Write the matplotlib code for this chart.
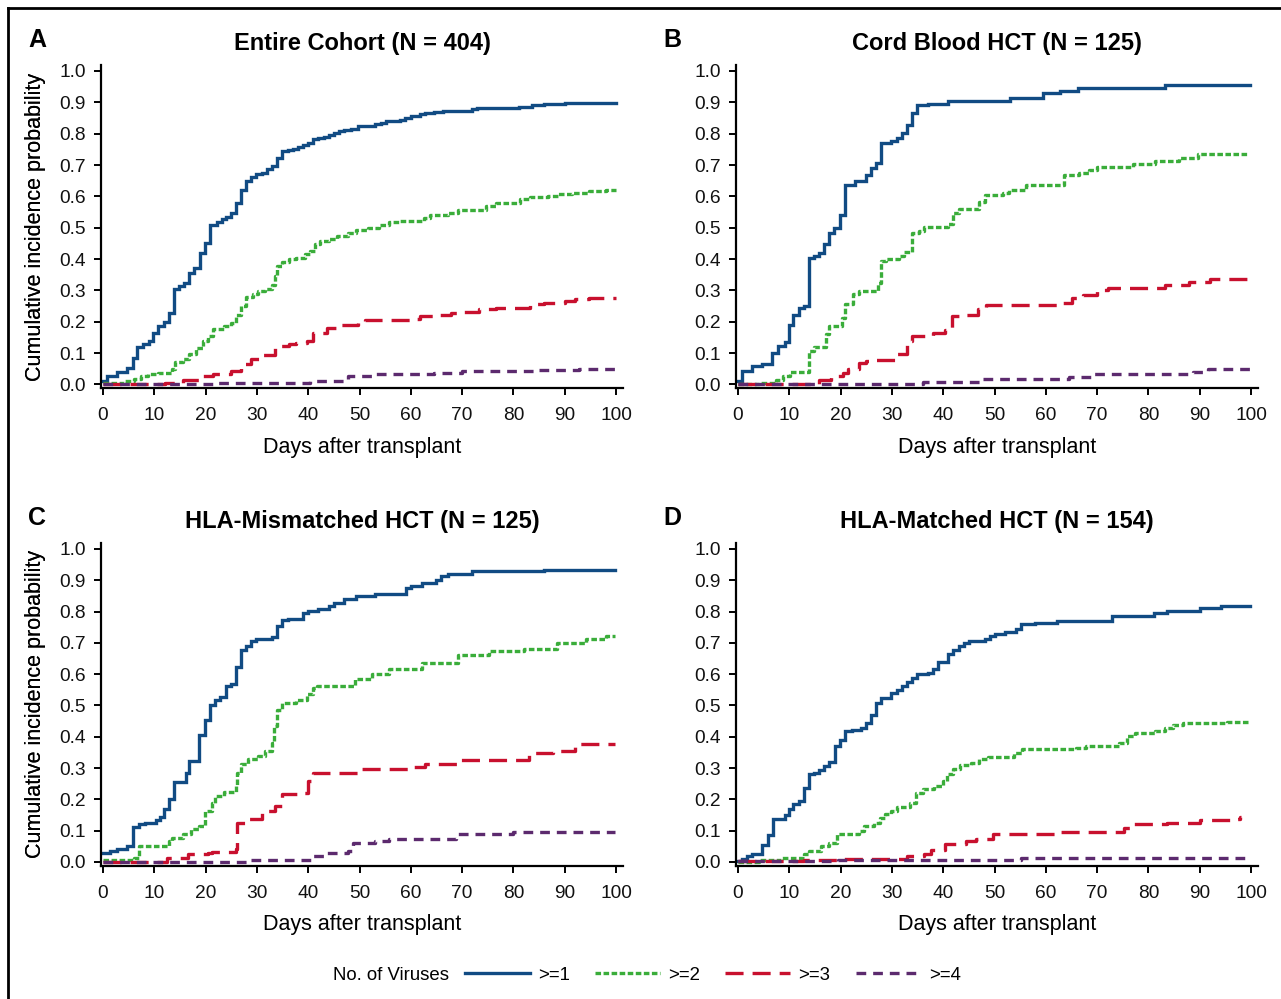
import matplotlib
matplotlib.use("Agg")
import matplotlib.pyplot as plt
from matplotlib.lines import Line2D

plt.rcParams['font.family'] = ['Liberation Sans', 'DejaVu Sans']
plt.rcParams['lines.scale_dashes'] = False

# ---------------- data ----------------
titles = ["Entire Cohort (N = 404)", "Cord Blood HCT (N = 125)",
          "HLA-Mismatched HCT (N = 125)", "HLA-Matched HCT (N = 154)"]
letters = ["A", "B", "C", "D"]
series_labels = [">=1", ">=2", ">=3", ">=4"]
x_ticks = [0, 10, 20, 30, 40, 50, 60, 70, 80, 90, 100]
y_ticks = [0.0, 0.1, 0.2, 0.3, 0.4, 0.5, 0.6, 0.7, 0.8, 0.9, 1.0]

A1_days = [0, 0.7, 2.7, 4.7, 5.9, 6.7, 7.7, 8.9, 9.7, 10.8, 11.8, 12.9, 13.8, 14.8, 15.8, 16.8, 17.8, 19.0, 19.8, 20.8, 22.2, 23.2, 23.9, 25.0, 25.9, 26.9, 27.9, 28.9, 29.9, 30.9, 31.9, 32.9, 33.9, 34.9, 36.0, 37.0, 38.0, 39.0, 40.0, 41.0, 42.0, 43.0, 44.0, 45.0, 46.0, 47.0, 48.4, 49.7, 53.1, 54.1, 55.1, 57.8, 58.8, 60.1, 61.8, 62.8, 64.5, 66.2, 71.9, 72.9, 81.0, 83.7, 86.0, 90.1, 100]
A1_vals = [0.01, 0.027, 0.04, 0.053, 0.083, 0.12, 0.13, 0.137, 0.165, 0.186, 0.2, 0.227, 0.305, 0.314, 0.324, 0.356, 0.37, 0.42, 0.45, 0.51, 0.518, 0.527, 0.535, 0.546, 0.58, 0.62, 0.65, 0.663, 0.67, 0.676, 0.686, 0.697, 0.723, 0.745, 0.748, 0.752, 0.759, 0.763, 0.771, 0.782, 0.785, 0.79, 0.796, 0.803, 0.808, 0.811, 0.816, 0.824, 0.83, 0.835, 0.839, 0.844, 0.85, 0.856, 0.862, 0.865, 0.869, 0.873, 0.878, 0.882, 0.886, 0.89, 0.895, 0.899, 0.899]
A2_days = [0, 4.0, 6.0, 7.4, 8.7, 10.8, 13.4, 14.1, 15.5, 16.8, 18.1, 19.5, 20.5, 21.5, 23.5, 24.9, 25.9, 26.9, 27.9, 29.2, 30.2, 31.6, 32.9, 33.6, 33.9, 34.9, 36.3, 37.6, 39.3, 40.3, 41.3, 42.3, 44.0, 45.7, 47.7, 49.4, 51.7, 53.8, 55.8, 57.8, 62.5, 63.8, 67.2, 69.2, 74.6, 76.6, 81.3, 83.3, 86.7, 88.7, 91.4, 94.8, 98.1, 100]
A2_vals = [0.005, 0.01, 0.018, 0.027, 0.034, 0.037, 0.048, 0.07, 0.08, 0.098, 0.115, 0.138, 0.156, 0.176, 0.186, 0.197, 0.223, 0.25, 0.28, 0.287, 0.298, 0.305, 0.316, 0.346, 0.378, 0.39, 0.4, 0.404, 0.415, 0.426, 0.447, 0.457, 0.465, 0.473, 0.484, 0.493, 0.5, 0.51, 0.518, 0.522, 0.532, 0.54, 0.548, 0.558, 0.569, 0.58, 0.59, 0.598, 0.601, 0.606, 0.612, 0.616, 0.619, 0.619]
A3_days = [0, 12.1, 15.5, 19.5, 21.5, 24.9, 26.9, 28.9, 30.9, 33.6, 36.3, 37.6, 39.7, 41.0, 43.7, 46.4, 49.7, 51.1, 59.8, 61.8, 64.5, 67.9, 69.2, 73.3, 76.6, 83.3, 86.0, 90.1, 92.1, 94.8, 100]
A3_vals = [0.0, 0.005, 0.013, 0.027, 0.032, 0.043, 0.064, 0.08, 0.093, 0.122, 0.128, 0.131, 0.138, 0.165, 0.181, 0.19, 0.197, 0.205, 0.21, 0.218, 0.22, 0.227, 0.232, 0.239, 0.245, 0.255, 0.26, 0.266, 0.273, 0.277, 0.277]
A4_days = [0, 21.5, 40.3, 47.7, 53.1, 64.5, 69.9, 84.7, 92.7, 100]
A4_vals = [0.0, 0.005, 0.01, 0.027, 0.032, 0.037, 0.043, 0.046, 0.05, 0.05]

B1_days = [0, 0.7, 2.7, 4.7, 6.7, 7.7, 9.1, 9.9, 10.8, 11.8, 12.8, 13.8, 14.8, 15.8, 16.8, 17.8, 18.8, 19.8, 20.8, 22.8, 24.9, 25.9, 26.9, 27.9, 29.9, 30.9, 31.9, 32.9, 33.9, 34.9, 37.0, 41.0, 53.1, 59.5, 62.8, 66.2, 83.3, 99.8]
B1_vals = [0.01, 0.043, 0.058, 0.066, 0.099, 0.124, 0.135, 0.191, 0.223, 0.245, 0.25, 0.402, 0.41, 0.42, 0.449, 0.482, 0.5, 0.54, 0.635, 0.649, 0.667, 0.691, 0.707, 0.771, 0.777, 0.787, 0.803, 0.827, 0.867, 0.89, 0.896, 0.904, 0.913, 0.931, 0.936, 0.945, 0.955, 0.955]
B2_days = [0, 4.0, 7.4, 8.7, 10.1, 13.8, 14.8, 17.1, 17.8, 20.2, 20.8, 22.5, 23.5, 27.2, 27.9, 28.9, 31.3, 32.3, 33.9, 35.3, 36.3, 41.0, 42.0, 43.0, 47.0, 48.1, 51.7, 52.8, 56.1, 63.5, 66.5, 68.5, 69.9, 76.9, 81.3, 86.0, 89.7, 99.5]
B2_vals = [0.0, 0.005, 0.013, 0.027, 0.04, 0.106, 0.12, 0.16, 0.186, 0.213, 0.255, 0.287, 0.298, 0.324, 0.394, 0.401, 0.41, 0.422, 0.484, 0.491, 0.502, 0.513, 0.548, 0.561, 0.583, 0.604, 0.612, 0.619, 0.635, 0.667, 0.676, 0.684, 0.694, 0.702, 0.712, 0.721, 0.734, 0.734]
B3_days = [0, 15.8, 18.1, 20.5, 21.5, 23.5, 24.9, 26.9, 30.9, 32.9, 33.9, 38.0, 40.3, 41.7, 44.4, 46.7, 48.4, 63.2, 65.2, 67.2, 69.9, 72.2, 83.3, 88.0, 92.1, 99.5]
B3_vals = [0.0, 0.013, 0.027, 0.037, 0.048, 0.067, 0.074, 0.077, 0.098, 0.14, 0.154, 0.163, 0.173, 0.218, 0.223, 0.241, 0.252, 0.26, 0.277, 0.285, 0.301, 0.309, 0.317, 0.328, 0.337, 0.337]
B4_days = [0, 36.0, 47.4, 64.5, 68.9, 88.7, 91.7, 99.8]
B4_vals = [0.0, 0.007, 0.016, 0.024, 0.034, 0.04, 0.048, 0.048]

C1_days = [0, 1.3, 2.7, 4.7, 5.9, 7.1, 8.1, 10.4, 11.1, 11.8, 12.9, 13.8, 16.1, 16.8, 18.8, 19.8, 20.8, 21.8, 22.8, 23.9, 24.9, 26.0, 26.9, 27.9, 28.9, 29.9, 32.9, 33.9, 34.9, 36.0, 39.0, 40.0, 42.0, 44.0, 45.0, 47.0, 49.4, 53.1, 59.1, 60.1, 62.2, 64.9, 65.9, 67.2, 71.9, 86.0, 99.8]
C1_vals = [0.03, 0.035, 0.043, 0.051, 0.113, 0.12, 0.126, 0.134, 0.145, 0.168, 0.202, 0.256, 0.285, 0.324, 0.407, 0.455, 0.503, 0.517, 0.528, 0.562, 0.57, 0.623, 0.676, 0.689, 0.705, 0.713, 0.719, 0.755, 0.772, 0.777, 0.796, 0.801, 0.809, 0.817, 0.826, 0.841, 0.849, 0.857, 0.876, 0.881, 0.891, 0.902, 0.913, 0.921, 0.929, 0.934, 0.934]
C2_days = [0, 6.0, 7.1, 12.8, 13.4, 15.5, 17.1, 18.8, 19.8, 21.2, 21.8, 23.5, 25.9, 26.2, 26.9, 28.2, 30.2, 31.6, 32.9, 33.3, 33.9, 34.9, 37.6, 39.7, 41.0, 41.7, 49.1, 52.4, 55.8, 62.2, 69.2, 75.3, 82.0, 88.4, 94.1, 98.1, 99.8]
C2_vals = [0.006, 0.014, 0.051, 0.067, 0.078, 0.088, 0.104, 0.115, 0.163, 0.189, 0.211, 0.223, 0.243, 0.285, 0.312, 0.328, 0.338, 0.354, 0.381, 0.434, 0.487, 0.509, 0.519, 0.538, 0.556, 0.562, 0.583, 0.6, 0.617, 0.636, 0.66, 0.673, 0.681, 0.698, 0.713, 0.721, 0.721]
C3_days = [0, 12.4, 16.5, 20.5, 21.2, 25.9, 26.2, 28.2, 30.9, 33.6, 34.9, 39.0, 40.0, 41.0, 50.4, 59.8, 62.8, 69.2, 83.0, 87.7, 92.1, 99.8]
C3_vals = [0.0, 0.014, 0.024, 0.03, 0.033, 0.04, 0.126, 0.137, 0.163, 0.179, 0.216, 0.221, 0.259, 0.285, 0.296, 0.303, 0.312, 0.326, 0.347, 0.354, 0.378, 0.378]
C4_days = [0, 28.9, 41.0, 43.7, 47.7, 48.7, 53.1, 55.8, 68.9, 80.0, 99.8]
C4_vals = [0.0, 0.005, 0.019, 0.028, 0.035, 0.06, 0.067, 0.072, 0.09, 0.096, 0.096]

D1_days = [0, 0.7, 1.7, 2.7, 4.7, 5.9, 6.9, 9.1, 9.9, 10.8, 11.8, 12.9, 13.8, 14.8, 15.8, 16.8, 17.8, 19.0, 19.8, 20.8, 22.2, 23.9, 24.9, 25.9, 26.9, 27.9, 29.9, 30.9, 31.9, 32.9, 33.9, 34.9, 37.0, 38.0, 39.0, 41.0, 42.0, 43.0, 44.0, 45.0, 48.1, 49.1, 50.1, 52.1, 54.1, 55.1, 57.8, 62.2, 72.9, 81.0, 83.7, 90.1, 94.1, 99.8]
D1_vals = [0.003, 0.011, 0.019, 0.027, 0.053, 0.085, 0.136, 0.149, 0.17, 0.184, 0.194, 0.237, 0.28, 0.285, 0.294, 0.306, 0.319, 0.372, 0.39, 0.42, 0.423, 0.429, 0.445, 0.468, 0.509, 0.524, 0.541, 0.55, 0.562, 0.575, 0.589, 0.6, 0.605, 0.617, 0.638, 0.663, 0.677, 0.689, 0.698, 0.705, 0.713, 0.721, 0.729, 0.734, 0.745, 0.759, 0.764, 0.771, 0.785, 0.796, 0.803, 0.81, 0.817, 0.817]
D2_days = [0, 4.0, 8.4, 12.8, 13.8, 16.1, 17.8, 19.2, 23.5, 24.5, 26.5, 27.6, 28.6, 29.9, 30.9, 33.6, 34.6, 36.0, 38.3, 40.0, 40.7, 42.0, 43.3, 45.4, 47.0, 48.7, 53.8, 55.4, 65.9, 67.9, 74.3, 75.9, 77.3, 81.3, 83.3, 84.7, 86.7, 95.4, 99.8]
D2_vals = [0.0, 0.005, 0.014, 0.024, 0.035, 0.051, 0.06, 0.088, 0.099, 0.115, 0.126, 0.141, 0.152, 0.163, 0.176, 0.189, 0.221, 0.232, 0.243, 0.259, 0.28, 0.296, 0.309, 0.315, 0.328, 0.336, 0.347, 0.36, 0.365, 0.37, 0.381, 0.402, 0.411, 0.418, 0.429, 0.439, 0.443, 0.448, 0.448]
D3_days = [0, 12.8, 19.5, 32.9, 36.3, 37.6, 40.3, 44.4, 46.4, 49.7, 51.1, 61.8, 75.3, 76.9, 83.7, 90.1, 96.8, 97.8, 98.0]
D3_vals = [0.002, 0.005, 0.009, 0.019, 0.027, 0.038, 0.056, 0.067, 0.072, 0.088, 0.091, 0.096, 0.11, 0.12, 0.126, 0.133, 0.138, 0.145, 0.145]
D4_days = [0, 19.5, 55.1, 99.8]
D4_vals = [0.002, 0.005, 0.012, 0.012]

panel_series = [
    [(A1_days, A1_vals), (A2_days, A2_vals), (A3_days, A3_vals), (A4_days, A4_vals)],
    [(B1_days, B1_vals), (B2_days, B2_vals), (B3_days, B3_vals), (B4_days, B4_vals)],
    [(C1_days, C1_vals), (C2_days, C2_vals), (C3_days, C3_vals), (C4_days, C4_vals)],
    [(D1_days, D1_vals), (D2_days, D2_vals), (D3_days, D3_vals), (D4_days, D4_vals)],
]

# ---------------- styles ----------------
colors = ["#114b83", "#3aad3a", "#c8102e", "#5c2a6e"]
styles = ["-", (0, (4.0, 1.8)), (0, (13, 6.5)), (0, (7, 5))]
lw = 2.4

W, H = 1281, 999
fig = plt.figure(figsize=(W / 100, H / 100), dpi=100)

# axes boxes in pixels: (left, top, right, bottom)
boxes = [(101, 65, 623, 388), (736, 65, 1258, 388),
         (101, 543, 623, 865.5), (736, 543, 1258, 865.5)]
ylims = [(-0.0115, 1.0191), (-0.0115, 1.0191), (-0.0112, 1.019), (-0.0112, 1.019)]

for i, (l, t, r, b) in enumerate(boxes):
    ax = fig.add_axes([l / W, 1 - b / H, (r - l) / W, (b - t) / H])
    for k, (d, v) in enumerate(panel_series[i]):
        ax.step(d, v, where='post', color=colors[k], lw=lw, ls=styles[k],
                solid_joinstyle='miter', dash_capstyle='butt')
    ax.set_xlim(-0.39, 101.36)
    ax.set_ylim(*ylims[i])
    ax.set_xticks(x_ticks)
    ax.set_yticks(y_ticks)
    ax.set_yticklabels([f"{v:.1f}" for v in y_ticks])
    for s in ["top", "right"]:
        ax.spines[s].set_visible(False)
    for s in ["left", "bottom"]:
        ax.spines[s].set_linewidth(1.6)
        ax.spines[s].set_color("black")
    ax.tick_params(axis='both', labelsize=13.8, width=1.4, length=5,
                   color="black", labelcolor="#111111")
    ax.tick_params(axis='x', pad=9)
    ax.tick_params(axis='y', pad=6)
    ax.set_xlabel("Days after transplant", fontsize=15.5, labelpad=9)
    ax.set_ylabel("Cumulative incidence probability", fontsize=15.5)
    ax.yaxis.set_label_coords((46 - l) / (r - l), 0.5)
    ax.set_title(titles[i], fontsize=17, fontweight='bold', pad=10.5)

# panel letters
letter_pos = [(37, 40), (672, 40), (37, 518), (672, 518)]
for (x, y), s in zip(letter_pos, letters):
    fig.text(x / W, 1 - y / H, s, fontsize=18, fontweight='bold',
             ha='center', va='center')

# frame lines (left and top)
fig.add_artist(Line2D([8 / W, 8 / W], [0, 1 - 8 / H], color='black', lw=2.0,
                      transform=fig.transFigure))
fig.add_artist(Line2D([8 / W, 1], [1 - 8 / H, 1 - 8 / H], color='black', lw=2.0,
                      transform=fig.transFigure))

# legend
fig.text(449 / W, 1 - 975 / H, "No. of Viruses", fontsize=13.4,
         ha='right', va='center')
handles = [Line2D([], [], color=colors[k], lw=lw, ls=styles[k]) for k in range(4)]
fig.legend(handles, series_labels, loc='center left',
           bbox_to_anchor=(465 / W, 1 - 975 / H), ncol=4, frameon=False,
           fontsize=13.4, handlelength=3.5, handletextpad=0.43,
           columnspacing=1.35, borderaxespad=0, borderpad=0)

fig.savefig("out.png", dpi=100, facecolor='white')
